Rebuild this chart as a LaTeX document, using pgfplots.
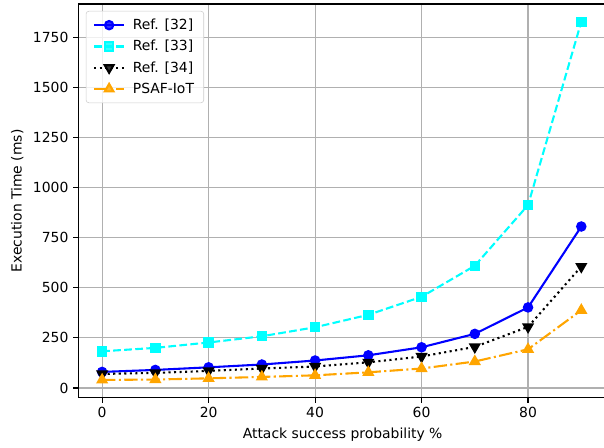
\documentclass[border=0pt]{standalone}
\usepackage{fontspec}
\setmainfont{DejaVu Sans}
\usepackage{pgfplots}
\pgfplotsset{compat=1.18}

\definecolor{mplorange}{HTML}{FFA500}
\definecolor{mplcyan}{HTML}{00FFFF}
\definecolor{gridgray}{HTML}{B0B0B0}

% values, x = attack success probability (%)
\pgfplotstableread{
x   r32  r33   r34  psaf
0   80   183   70   40
10  90   200   75   42
20  103  227   85   48
30  117  258   97   55
40  137  303   107  63
50  163  365   128  78
60  203  455   157  97
70  270  610   205  132
80  402  913   305  193
90  806  1828  606  388
}\datatable

\begin{document}
\begin{tikzpicture}
\begin{axis}[
    scale only axis,
    width=380pt, height=283pt,
    xmin=-4.5, xmax=94.84,
    ymin=-49.4, ymax=1917,
    xtick={0,20,40,60,80},
    ytick={0,250,500,750,1000,1250,1500,1750},
    tick pos=left,
    tick align=outside,
    major tick length=3.5pt,
    every tick/.style={black, line width=0.8pt},
    axis line style={line width=0.8pt},
    grid=major,
    major grid style={gridgray, line width=0.8pt},
    tick label style={font=\fontsize{10}{12}\selectfont},
    label style={font=\fontsize{10}{12}\selectfont},
    /pgf/number format/assume math mode=true,
    /pgf/number format/1000 sep={},
    xlabel={Attack success probability \%},
    ylabel={Execution Time (ms)},
    legend cell align=left,
    legend style={
        at={(axis description cs:0,1)}, anchor=north west,
        xshift=5.5pt, yshift=-5pt,
        draw=black!20, rounded corners=2pt,
        fill=white, fill opacity=0.8, text opacity=1,
        font=\fontsize{10}{12}\selectfont,
        row sep=2.2pt, inner xsep=5pt, inner ysep=3.5pt,
        /tikz/every odd column/.append style={column sep=3.5pt},
    },
    legend image code/.code={
        \draw[mark repeat=2, mark phase=2]
            plot coordinates {(0pt,0pt) (10.8pt,0pt) (21.6pt,0pt)};
    },
]
\addplot[blue, line width=1.5pt, mark=*, mark size=3pt, mark options={solid}]
    table[x=x, y=r32] {\datatable};
\addlegendentry{Ref. [32]}
\addplot[mplcyan, line width=1.5pt, dash pattern=on 5.55pt off 2.4pt,
    mark=square*, mark size=3pt, mark options={solid}]
    table[x=x, y=r33] {\datatable};
\addlegendentry{Ref. [33]}
\addplot[black, line width=1.5pt, dash pattern=on 1.5pt off 2.475pt,
    mark=triangle*, mark size=3.6pt, mark options={solid, rotate=180}]
    table[x=x, y=r34] {\datatable};
\addlegendentry{Ref. [34]}
\addplot[mplorange, line width=1.5pt,
    dash pattern=on 9.6pt off 2.4pt on 1.5pt off 2.4pt,
    mark=triangle*, mark size=3.6pt, mark options={solid}]
    table[x=x, y=psaf] {\datatable};
\addlegendentry{PSAF-IoT}
\end{axis}
\pgfresetboundingbox
\useasboundingbox (-56.16pt,-36pt) rectangle (377.8pt,285.84pt);
\end{tikzpicture}
\end{document}
